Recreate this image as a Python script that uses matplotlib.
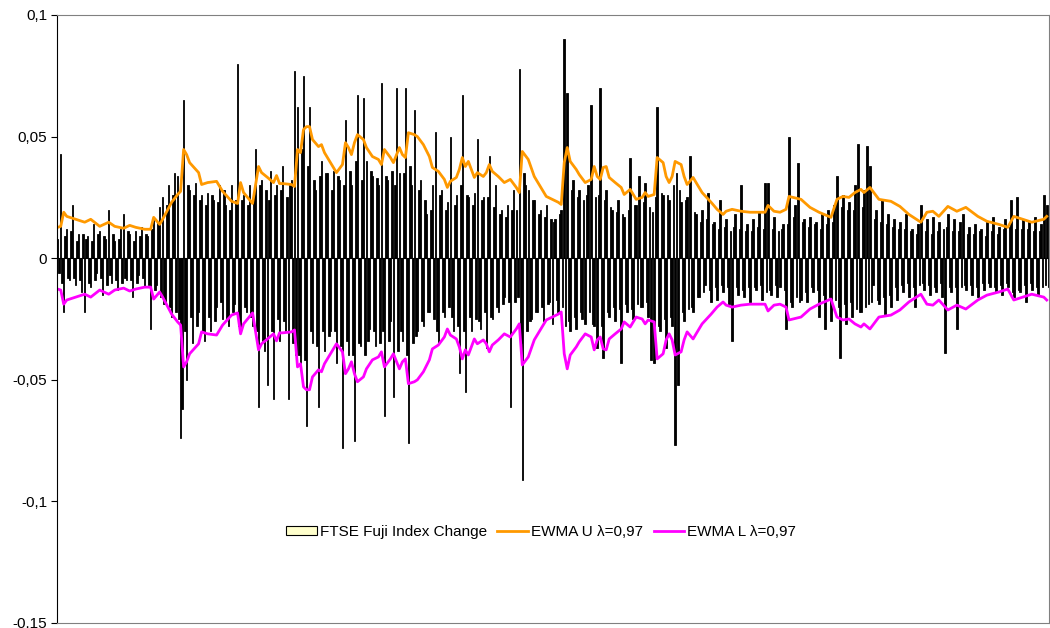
import matplotlib
matplotlib.use('Agg')
import matplotlib.pyplot as plt
import numpy as np

plt.rcParams['font.family'] = ['Liberation Sans', 'DejaVu Sans']

# index change, two bars per 3 px of the original chart width
change = [
    0.008, -0.006, 0.043, -0.010, -0.022, 0.009, 0.012, -0.008, -0.009, 0.011, 0.022, -0.008, -0.011, 0.007, 0.010, -0.009, -0.014, 0.010, -0.022, 0.008,
    0.009, -0.010, -0.012, 0.007, 0.014, -0.009, -0.006, 0.010, 0.011, -0.008, -0.015, 0.009, 0.008, -0.011, 0.020, -0.007, -0.010, 0.010, 0.007, -0.009,
    -0.013, 0.008, 0.012, -0.010, 0.018, -0.008, -0.009, 0.011, 0.010, -0.009, -0.016, 0.007, 0.011, -0.010, -0.007, 0.009, 0.013, -0.008, -0.012, 0.010,
    0.009, -0.011, -0.029, 0.012, 0.016, -0.013, -0.011, 0.015, 0.021, -0.016, 0.025, -0.019, -0.018, 0.022, 0.030, -0.020, -0.024, 0.026, 0.035, -0.022,
    0.034, -0.025, -0.074, -0.062, 0.065, -0.030, -0.050, 0.030, 0.028, -0.024, -0.035, 0.026, 0.031, -0.028, -0.022, 0.024, 0.026, -0.030, -0.034, 0.022,
    0.027, -0.024, -0.030, 0.026, 0.024, -0.026, -0.020, 0.023, 0.030, -0.018, -0.025, 0.028, 0.022, -0.025, -0.028, 0.020, 0.030, -0.022, -0.019, 0.024,
    0.080, -0.028, -0.030, 0.024, 0.026, -0.020, -0.022, 0.022, 0.030, -0.024, -0.028, 0.026, 0.045, -0.030, -0.061, 0.030, 0.032, -0.034, -0.038, 0.028,
    -0.052, 0.024, 0.036, -0.030, -0.058, 0.026, 0.030, -0.025, -0.034, 0.028, 0.038, -0.026, -0.030, 0.025, -0.058, 0.030, 0.032, -0.035, 0.077, -0.040,
    0.062, -0.040, -0.045, 0.045, 0.075, -0.042, -0.069, 0.038, 0.062, -0.030, -0.035, 0.032, 0.028, -0.036, -0.061, 0.034, 0.040, -0.030, -0.038, 0.035,
    0.035, -0.032, -0.030, 0.028, 0.036, -0.030, -0.043, 0.034, 0.032, -0.036, -0.078, 0.030, 0.057, -0.034, -0.040, 0.036, 0.030, -0.040, -0.075, 0.040,
    0.067, -0.035, -0.036, 0.032, 0.066, -0.040, 0.040, -0.034, -0.029, 0.036, 0.034, -0.030, -0.036, 0.033, 0.030, -0.035, 0.072, -0.030, -0.065, 0.034,
    0.032, -0.034, -0.026, 0.036, -0.057, 0.030, 0.070, -0.038, 0.035, -0.030, -0.034, 0.035, 0.070, -0.040, -0.076, 0.038, 0.030, -0.035, 0.061, -0.032,
    -0.030, 0.028, 0.032, -0.026, -0.028, 0.024, 0.018, -0.022, -0.022, 0.020, 0.030, -0.025, 0.052, -0.030, -0.035, 0.026, 0.028, -0.022, -0.024, 0.020,
    0.023, -0.020, 0.050, -0.024, -0.030, 0.022, 0.026, -0.028, -0.047, 0.030, 0.067, -0.030, -0.055, 0.026, 0.025, -0.024, -0.030, 0.022, 0.027, -0.025,
    0.049, -0.026, -0.029, 0.024, 0.025, -0.022, -0.037, 0.025, 0.042, -0.024, -0.025, 0.021, 0.030, -0.020, -0.022, 0.018, 0.020, -0.019, -0.016, 0.017,
    0.022, -0.018, -0.061, 0.020, 0.028, -0.018, 0.020, -0.016, 0.078, -0.035, -0.091, 0.035, 0.030, -0.030, 0.028, -0.026, -0.025, 0.024, 0.024, -0.022,
    -0.022, 0.018, 0.020, -0.020, -0.026, 0.017, 0.022, -0.019, -0.018, 0.016, -0.027, 0.015, 0.016, -0.017, -0.022, 0.018, 0.020, -0.020, 0.090, -0.028,
    0.068, -0.026, -0.030, 0.028, 0.032, -0.024, -0.029, 0.025, 0.028, -0.022, -0.025, 0.024, -0.027, 0.026, 0.030, -0.022, 0.063, -0.027, -0.028, 0.025,
    -0.037, 0.026, 0.070, -0.028, -0.041, 0.024, 0.028, -0.022, -0.024, 0.021, 0.020, -0.020, -0.026, 0.019, 0.024, -0.021, -0.043, 0.018, 0.017, -0.019,
    -0.022, 0.020, 0.041, -0.021, -0.025, 0.022, 0.022, -0.019, 0.034, -0.020, -0.020, 0.023, 0.031, -0.018, -0.024, 0.021, -0.042, 0.019, -0.043, 0.025,
    0.062, -0.028, -0.030, 0.027, 0.026, -0.025, -0.037, 0.026, 0.024, -0.024, -0.028, 0.030, -0.077, 0.035, -0.052, 0.028, 0.023, -0.022, -0.026, 0.024,
    0.025, -0.021, 0.042, -0.020, -0.022, 0.019, 0.018, -0.016, -0.016, 0.015, 0.020, -0.014, -0.011, 0.016, 0.027, -0.013, -0.018, 0.014, 0.015, -0.012,
    -0.017, 0.012, 0.024, -0.011, -0.014, 0.013, 0.016, -0.012, -0.019, 0.011, -0.034, 0.013, 0.018, -0.012, -0.015, 0.012, 0.030, -0.013, -0.016, 0.011,
    0.014, -0.012, -0.018, 0.011, 0.016, -0.012, -0.013, 0.013, 0.019, -0.011, -0.017, 0.012, 0.031, -0.014, 0.031, -0.013, -0.015, 0.012, 0.017, -0.011,
    -0.016, 0.011, -0.012, 0.012, 0.014, -0.013, -0.029, 0.014, 0.050, -0.018, -0.020, 0.017, 0.022, -0.016, 0.039, -0.018, -0.017, 0.015, 0.016, -0.014,
    -0.018, 0.013, 0.017, -0.012, -0.014, 0.014, 0.015, -0.013, -0.024, 0.012, 0.018, -0.015, -0.029, 0.014, 0.020, -0.016, -0.026, 0.015, 0.022, -0.017,
    0.034, -0.020, -0.041, 0.021, 0.026, -0.019, -0.027, 0.020, 0.023, -0.018, -0.024, 0.020, 0.030, -0.021, 0.047, -0.022, -0.022, 0.021, 0.028, -0.020,
    0.046, -0.019, 0.038, -0.018, -0.011, 0.016, 0.020, -0.017, -0.019, 0.015, 0.024, -0.016, -0.023, 0.014, 0.018, -0.015, -0.020, 0.013, 0.016, -0.012,
    -0.017, 0.012, 0.015, -0.011, -0.014, 0.012, 0.018, -0.010, -0.016, 0.011, 0.012, -0.012, -0.020, 0.010, 0.014, -0.011, 0.022, -0.010, -0.013, 0.011,
    0.016, -0.011, -0.015, 0.010, 0.017, -0.012, -0.014, 0.011, 0.015, -0.010, -0.016, 0.012, -0.039, 0.013, 0.018, -0.012, -0.014, 0.011, 0.016, -0.012,
    -0.029, 0.011, 0.015, -0.012, 0.018, -0.011, -0.013, 0.010, 0.013, -0.011, -0.015, 0.010, 0.014, -0.012, -0.016, 0.011, 0.012, -0.010, -0.013, 0.009,
    0.015, -0.010, -0.012, 0.011, 0.017, -0.012, -0.014, 0.010, 0.013, -0.011, -0.015, 0.012, 0.016, -0.010, -0.012, 0.013, 0.024, -0.014, -0.016, 0.012,
    0.025, -0.013, -0.014, 0.012, 0.016, -0.011, -0.018, 0.012, 0.015, -0.010, -0.013, 0.011, 0.017, -0.012, -0.015, 0.011, 0.014, -0.012, 0.026, -0.011,
    0.022, -0.012,
]

# EWMA band (upper), read at these positions (same units, 3 px each)
ewma_day = [
    0, 1, 2, 3, 6, 9, 11, 14, 17, 19, 22, 24, 26, 29, 31, 32, 34, 35, 38, 40,
    41, 42, 43, 44, 47, 48, 50, 53, 55, 58, 60, 61, 62, 65, 67, 68, 70, 72, 73, 74,
    75, 78, 79, 80, 81, 82, 83, 84, 85, 87, 88, 89, 92, 93, 95, 96, 97, 98, 99, 100,
    102, 103, 105, 107, 108, 109, 111, 112, 114, 115, 116, 117, 119, 120, 122, 124, 125, 127, 129, 130,
    131, 133, 134, 135, 136, 137, 138, 139, 140, 142, 143, 144, 145, 147, 149, 151, 153, 154, 155, 157,
    159, 161, 163, 165, 167, 168, 169, 170, 171, 173, 174, 176, 178, 179, 180, 181, 182, 183, 184, 186,
    188, 189, 191, 193, 195, 196, 197, 199, 200, 202, 203, 204, 205, 206, 208, 209, 210, 212, 213, 215,
    218, 220, 222, 223, 225, 228, 231, 234, 236, 237, 239, 241, 243, 244, 248, 251, 254, 258, 260, 262,
    264, 266, 268, 269, 271, 274, 278, 281, 284, 288, 290, 292, 294, 297, 300, 303, 307, 310, 314, 317,
    319, 322, 325, 329, 330,
]
ewma_u = [
    0.0127, 0.0131, 0.0189, 0.0172, 0.0160, 0.0148, 0.0160, 0.0131, 0.0148, 0.0131,
    0.0123, 0.0135, 0.0127, 0.0119, 0.0119, 0.0168, 0.0139, 0.0160, 0.0230, 0.0262,
    0.0275, 0.0447, 0.0426, 0.0393, 0.0352, 0.0303, 0.0311, 0.0316, 0.0275, 0.0234,
    0.0225, 0.0311, 0.0270, 0.0225, 0.0377, 0.0352, 0.0332, 0.0311, 0.0340, 0.0307,
    0.0307, 0.0303, 0.0295, 0.0447, 0.0434, 0.0529, 0.0541, 0.0541, 0.0488, 0.0459,
    0.0467, 0.0434, 0.0373, 0.0352, 0.0385, 0.0475, 0.0455, 0.0426, 0.0475, 0.0508,
    0.0488, 0.0455, 0.0418, 0.0406, 0.0385, 0.0447, 0.0414, 0.0393, 0.0455, 0.0426,
    0.0414, 0.0516, 0.0508, 0.0500, 0.0467, 0.0418, 0.0373, 0.0357, 0.0324, 0.0291,
    0.0316, 0.0332, 0.0365, 0.0414, 0.0377, 0.0398, 0.0365, 0.0332, 0.0352, 0.0336,
    0.0352, 0.0385, 0.0357, 0.0336, 0.0311, 0.0324, 0.0291, 0.0270, 0.0439, 0.0406,
    0.0336, 0.0295, 0.0254, 0.0242, 0.0230, 0.0221, 0.0393, 0.0455, 0.0398, 0.0365,
    0.0344, 0.0311, 0.0324, 0.0377, 0.0336, 0.0324, 0.0373, 0.0377, 0.0332, 0.0311,
    0.0291, 0.0262, 0.0283, 0.0242, 0.0250, 0.0270, 0.0254, 0.0262, 0.0414, 0.0393,
    0.0336, 0.0311, 0.0336, 0.0398, 0.0385, 0.0336, 0.0303, 0.0332, 0.0311, 0.0270,
    0.0230, 0.0201, 0.0180, 0.0193, 0.0201, 0.0193, 0.0189, 0.0189, 0.0189, 0.0217,
    0.0193, 0.0189, 0.0201, 0.0254, 0.0242, 0.0209, 0.0189, 0.0168, 0.0242, 0.0254,
    0.0250, 0.0270, 0.0283, 0.0270, 0.0291, 0.0242, 0.0234, 0.0213, 0.0180, 0.0148,
    0.0189, 0.0193, 0.0172, 0.0213, 0.0193, 0.0209, 0.0172, 0.0152, 0.0139, 0.0127,
    0.0172, 0.0160, 0.0148, 0.0160, 0.0172,
]
ewma_l = [-v for v in ewma_u]

labels = ['FTSE Fuji Index Change', 'EWMA U \u03bb=0,97', 'EWMA L \u03bb=0,97']
yticks = [-0.15, -0.1, -0.05, 0, 0.05, 0.1]
yticklabels = ['-0,15', '-0,1', '-0,05', '0', '0,05', '0,1']

fig = plt.figure(figsize=(10.5, 6.28), dpi=100)
ax = fig.add_axes([57/1050, 5/628, 992/1050, 608/628])

pos = np.arange(len(change)) * 0.5
bars = ax.bar(pos, change, width=0.5, color='black', edgecolor='black',
              linewidth=0.6, label=labels[0])
ax.axhline(0, color='black', linewidth=0.8)
lu, = ax.plot(ewma_day, ewma_u, color='#FF9900', linewidth=2.0, label=labels[1])
ll, = ax.plot(ewma_day, ewma_l, color='#FF00FF', linewidth=2.0, label=labels[2])

ax.set_xlim(-0.25, pos[-1] + 0.25)
ax.set_ylim(-0.15, 0.1)
ax.set_xticks([])
ax.set_yticks(yticks)
ax.set_yticklabels(yticklabels, fontsize=11)
ax.tick_params(axis='y', direction='out', length=4, width=0.8, pad=3)

for s in ['top', 'right', 'bottom']:
    ax.spines[s].set_color('#808080')
    ax.spines[s].set_linewidth(0.8)
ax.spines['left'].set_color('black')
ax.spines['left'].set_linewidth(0.8)

leg = ax.legend(handles=[bars, lu, ll], loc='center', bbox_to_anchor=(0.488, 0.15),
                ncol=3, frameon=False, fontsize=11, handlelength=2.0,
                handleheight=0.6, handletextpad=0.2, columnspacing=0.7)
# legend box for the bar series is pale yellow like the original
leg.legend_handles[0].set_facecolor('#FFFFCC')
leg.legend_handles[0].set_edgecolor('black')
leg.legend_handles[0].set_linewidth(0.8)

fig.savefig('out.png', dpi=100)
